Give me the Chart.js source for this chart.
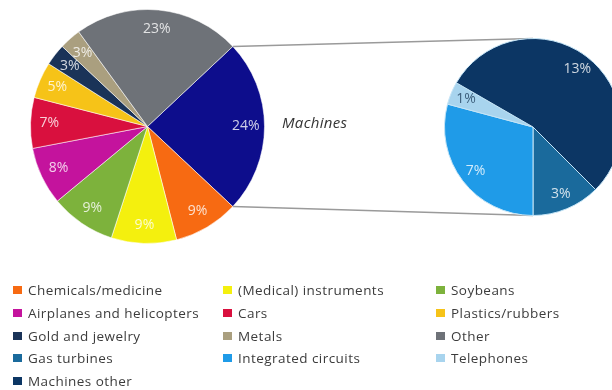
<!DOCTYPE html>
<html lang="en">
<head>
<meta charset="UTF-8">
<title>Export composition</title>
<script src="https://cdn.jsdelivr.net/npm/chart.js"></script>
<style>
  html, body { margin: 0; padding: 0; background: #fff; overflow: hidden; }
  body { width: 612px; height: 390px; position: relative; font-family: "Open Sans", sans-serif; }
  canvas { position: absolute; }
  #links { left: 0; top: 0; }
  #mainPie { left: 30px; top: 9px; }
  #machinePie { left: 444px; top: 38px; }
  #machinesTitle { position: absolute; left: 282px; top: 112px; font-style: italic; font-size: 15px; letter-spacing: 0.3px; color: #333; }
  .item { position: absolute; font-size: 13.5px; letter-spacing: 0.45px; color: #3c3c3c; line-height: 18px; white-space: nowrap; }
  .item i { position: absolute; left: -15px; top: 5px; width: 9px; height: 8px; }
</style>
</head>
<body>
<canvas id="links" width="612" height="390"></canvas>
<canvas id="mainPie" width="235" height="235"></canvas>
<canvas id="machinePie" width="178" height="178"></canvas>
<div id="machinesTitle">Machines</div>
<div id="legend"></div>

<script>
// main pie: everything except machines (machines is the sum of the second pie)
const mainLabels = ['Chemicals/medicine', '(Medical) instruments', 'Soybeans',
                    'Airplanes and helicopters', 'Cars', 'Plastics/rubbers',
                    'Gold and jewelry', 'Metals', 'Other'];
const mainValues = [9, 9, 9, 8, 7, 5, 3, 3, 23];

// breakdown of machines
const machineLabels = ['Gas turbines', 'Integrated circuits', 'Telephones', 'Machines other'];
const machineValues = [3, 7, 1, 13];

const mainColors = ['#f76a12', '#f4f00e', '#7db23c', '#c4139d', '#d9103e',
                    '#f6c318', '#1a3358', '#aa9f7f', '#6e7278'];
const machineColors = ['#1a6a9c', '#1f9be8', '#a8d4ee', '#0c3664'];
const machinesColor = '#0d0d8c';

const sum = arr => arr.reduce((a, b) => a + b, 0);
const machinesTotal = sum(machineValues);
const machinesSweep = machinesTotal / (machinesTotal + sum(mainValues)) * 360;

// draws "n%" inside each slice near the rim
const sliceLabels = {
  id: 'sliceLabels',
  afterDatasetsDraw(chart, args, opts) {
    const ctx = chart.ctx;
    const values = chart.data.datasets[0].data;
    chart.getDatasetMeta(0).data.forEach((arc, i) => {
      const mid = (arc.startAngle + arc.endAngle) / 2;
      const r = arc.outerRadius * opts.at;
      ctx.save();
      ctx.fillStyle = (opts.colors && opts.colors[i]) || 'rgba(255,255,255,0.8)';
      ctx.font = '14px "Open Sans", sans-serif';
      ctx.textAlign = 'center';
      ctx.textBaseline = 'middle';
      ctx.fillText(values[i] + '%', arc.x + Math.cos(mid) * r, arc.y + Math.sin(mid) * r);
      ctx.restore();
    });
  }
};

function pieOptions(rotation, labelOpts) {
  return {
    responsive: false,
    animation: false,
    rotation: rotation,
    layout: { padding: 0 },
    plugins: {
      legend: { display: false },
      tooltip: { enabled: false },
      sliceLabels: labelOpts
    }
  };
}

const mainChart = new Chart(document.getElementById('mainPie'), {
  type: 'pie',
  data: {
    labels: ['Machines'].concat(mainLabels),
    datasets: [{
      data: [machinesTotal].concat(mainValues),
      backgroundColor: [machinesColor].concat(mainColors),
      borderColor: 'rgba(255,255,255,0.55)',
      borderWidth: 1
    }]
  },
  options: pieOptions(90 - machinesSweep / 2, { at: 0.84 }),
  plugins: [sliceLabels]
});

const machineChart = new Chart(document.getElementById('machinePie'), {
  type: 'pie',
  data: {
    labels: machineLabels,
    datasets: [{
      data: machineValues,
      backgroundColor: machineColors,
      borderColor: '#c4e4f6',
      borderWidth: 1
    }]
  },
  options: pieOptions(135, { at: 0.82, colors: [null, null, '#3d5f7c', null] }),
  plugins: [sliceLabels]
});

// connector lines from the machines slice to the top/bottom of the second pie
(function drawLinks() {
  const mainCanvas = document.getElementById('mainPie');
  const subCanvas = document.getElementById('machinePie');
  const a = mainChart.getDatasetMeta(0).data[0];
  const b = machineChart.getDatasetMeta(0).data[0];
  const ax = mainCanvas.offsetLeft + a.x, ay = mainCanvas.offsetTop + a.y;
  const bx = subCanvas.offsetLeft + b.x, by = subCanvas.offsetTop + b.y;
  const ctx = document.getElementById('links').getContext('2d');
  ctx.strokeStyle = '#9a9a9a';
  ctx.lineWidth = 1.5;
  ctx.beginPath();
  ctx.moveTo(ax + Math.cos(a.startAngle) * a.outerRadius, ay + Math.sin(a.startAngle) * a.outerRadius);
  ctx.lineTo(bx, by - b.outerRadius);
  ctx.moveTo(ax + Math.cos(a.endAngle) * a.outerRadius, ay + Math.sin(a.endAngle) * a.outerRadius);
  ctx.lineTo(bx, by + b.outerRadius);
  ctx.stroke();
})();

// legend, three columns, filled row by row
const legendLabels = mainLabels.concat(machineLabels);
const legendColors = mainColors.concat(machineColors);
const colX = [28, 238, 451];
const legend = document.getElementById('legend');
legendLabels.forEach((name, i) => {
  const el = document.createElement('div');
  el.className = 'item';
  el.style.left = colX[i % 3] + 'px';
  el.style.top = (281 + Math.floor(i / 3) * 22.75) + 'px';
  el.innerHTML = '<i style="background:' + legendColors[i] + '"></i>' + name;
  legend.appendChild(el);
});
</script>
</body>
</html>
